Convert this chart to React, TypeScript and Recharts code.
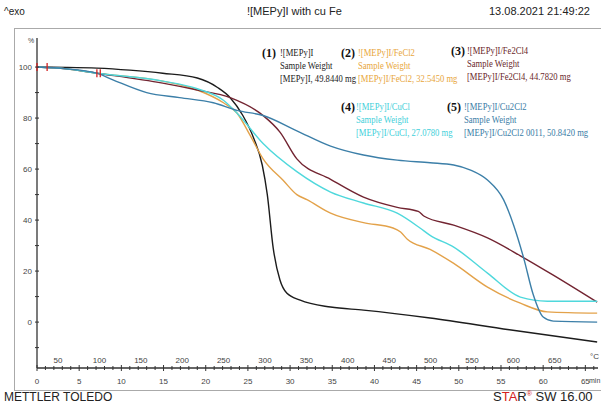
import { LineChart, Line, XAxis, YAxis, ReferenceDot, ReferenceLine } from 'recharts';

// time axis (min) and temperature programme
const minuteTicks = Array.from({ length: 67 }, (_, i) => i);
const tempLabels = [50, 100, 150, 200, 250, 300, 350, 400, 450, 500, 550, 600, 650];
const startTemp = 24.6;
const heatRate = 10.19;
const weightTicks = [-10, 0, 10, 20, 30, 40, 50, 60, 70, 80, 90, 100];

// (1) [MEPy]I
const mepyTime = [0, 3.5, 7.1, 11, 14.9, 19, 21.4, 22.9, 24.4, 25.7, 26.7, 27.3, 28, 28.8, 29.6, 31.2, 34.8, 38.7, 46.6, 56, 66.4];
const mepyWeight = [100, 99.9, 99.6, 98.8, 97.6, 95.7, 92, 88, 81, 72, 61.6, 50, 29, 16.5, 11.4, 8.6, 5.9, 4.7, 1.6, -3, -7.8];

// (2) [MEPy]I/FeCl2
const fecl2Time = [0, 3.5, 7.1, 14.9, 19, 22.1, 23.7, 25.3, 26.8, 29.2, 30.8, 32, 34.8, 38.7, 42.2, 43.1, 43.9, 46.6, 49.4, 53.4, 57.3, 60.5, 66.4];
const fecl2Weight = [100, 99.3, 97.6, 94.5, 91, 86, 82, 73, 64, 55.5, 50, 48, 42.7, 39, 36.9, 35.3, 32.5, 28.5, 23, 13.7, 7.4, 4, 3.5];

// (3) [MEPy]I/Fe2Cl4
const fe2cl4Time = [0, 3.5, 7.1, 14.9, 19, 22.9, 26.8, 28.8, 30.8, 34.8, 38.7, 42.7, 45.2, 45.9, 49.4, 53.4, 57.3, 61.2, 66.4];
const fe2cl4Weight = [100, 99.3, 97.6, 93.7, 91, 88, 81, 74.5, 64, 56, 49, 45, 43.4, 41.5, 38, 33, 26, 18.4, 7.8];

// (4) [MEPy]I/CuCl
const cuclTime = [0, 3.5, 7.1, 14.9, 19, 22.1, 23.7, 26.8, 30.8, 34.8, 38.7, 42.7, 45.4, 46.6, 49.4, 53.4, 57.3, 60.5, 66.4];
const cuclWeight = [100, 99.3, 97.6, 94.5, 91.5, 87, 82, 70, 59, 51, 46.7, 42.7, 36.9, 34, 29.4, 19.2, 9.8, 8.2, 8.2];

// (5) [MEPy]I/Cu2Cl2
const cu2cl2Time = [0, 3.5, 7.1, 9, 13, 16.9, 20.9, 23.7, 26.8, 30.8, 34.8, 38.7, 42.7, 46.6, 49.4, 51.4, 53.4, 55.3, 56.5, 57.7, 58.8, 60, 61.2, 66.4];
const cu2cl2Weight = [100, 99.3, 97.6, 95, 90, 88, 86, 83, 81, 75, 69, 65.5, 63.5, 62.5, 61.6, 59.6, 55.7, 48, 38, 25, 11, 2, 0.4, 0];

// red step markers
const markerTime = [0, 1.2, 7.1, 7.5];
const markerWeight = [100, 100, 97.6, 97.6];

const legendTitles = ['![MEPy]I', '![MEPy]I/FeCl2', '![MEPy]I/Fe2Cl4', '![MEPy]I/CuCl', '![MEPy]I/Cu2Cl2'];
const legendWeights = ['[MEPy]I, 49.8440 mg', '[MEPy]I/FeCl2, 32.5450 mg', '[MEPy]I/Fe2Cl4, 44.7820 mg', '[MEPy]I/CuCl, 27.0780 mg', '[MEPy]I/Cu2Cl2 0011, 50.8420 mg'];

const colors = ['#1c1c1c', '#e3a24a', '#722431', '#4fd8dc', '#3c7fa8'];
const textColors = ['#1c1c1c', '#e8a63c', '#6a1f2b', '#3fd0da', '#3a7ca6'];

const zip = (t: number[], w: number[]) => t.map((v, i) => ({ t: v, w: w[i] }));
const series = [
  zip(mepyTime, mepyWeight),
  zip(fecl2Time, fecl2Weight),
  zip(fe2cl4Time, fe2cl4Weight),
  zip(cuclTime, cuclWeight),
  zip(cu2cl2Time, cu2cl2Weight),
];
const tempPositions = tempLabels.map((c) => (c - startTemp) / heatRate);

const axisFont = '"Liberation Sans", Arial, sans-serif';
const serif = '"Liberation Serif", "Times New Roman", serif';

const renderMinuteTick = (props: any) => {
  const { x, y, payload } = props;
  const major = payload.value % 5 === 0;
  return (
    <g key={payload.value}>
      <line x1={x} x2={x} y1={y - (major ? 3 : 2)} y2={y + (major ? 3 : 2)} stroke="#333" />
      {major && (
        <text x={x} y={y + 16} textAnchor="middle" fontSize={8} fill="#444" fontFamily={axisFont}>
          {payload.value}
        </text>
      )}
    </g>
  );
};

const renderWeightTick = (props: any) => {
  const { x, y, payload } = props;
  const major = payload.value % 20 === 0;
  return (
    <g key={payload.value}>
      <line x1={x - 2} x2={x + 2} y1={y} y2={y} stroke="#333" />
      {major && (
        <text x={x - 5} y={y + 3} textAnchor="end" fontSize={8} fill="#444" fontFamily={axisFont}>
          {payload.value}
        </text>
      )}
    </g>
  );
};

const Marker = (props: any) => (
  <line x1={props.cx} x2={props.cx} y1={props.cy - 4} y2={props.cy + 4} stroke="#d42020" strokeWidth={1.3} />
);

const legendPos = [
  { x: 262, y: 46, tx: 280 },
  { x: 341, y: 46, tx: 358 },
  { x: 451, y: 44, tx: 467 },
  { x: 341, y: 100, tx: 356 },
  { x: 447, y: 100, tx: 464 },
];

function App() {
  return (
    <div style={{ position: 'absolute', left: 0, top: 0, width: 601, height: 407, background: '#fff', overflow: 'hidden' }}>
      <div style={{ position: 'absolute', left: 14, top: 28, width: 600, height: 361, border: '1px solid #aaa' }} />
      <div style={{ position: 'absolute', left: 4, top: 6, fontSize: 10, fontFamily: axisFont, color: '#222' }}>^exo</div>
      <div style={{ position: 'absolute', left: 247, top: 5, fontSize: 11, fontFamily: axisFont, color: '#222' }}>![MEPy]I with cu Fe</div>
      <div style={{ position: 'absolute', left: 489, top: 5, fontSize: 11, fontFamily: axisFont, color: '#222', whiteSpace: 'nowrap' }}>13.08.2021 21:49:22</div>
      <div style={{ position: 'absolute', left: 4, top: 390, fontSize: 12, fontFamily: axisFont, color: '#222' }}>METTLER TOLEDO</div>
      <div style={{ position: 'absolute', left: 493, top: 389, fontSize: 13, fontFamily: axisFont, color: '#222', whiteSpace: 'nowrap' }}>
        S<span style={{ color: '#d42020' }}>TA</span>R<sup style={{ color: '#d42020', fontSize: 7 }}>®</sup> SW 16.00
      </div>
      <div style={{ position: 'absolute', left: 28, top: 37, fontSize: 7, fontFamily: axisFont, color: '#444' }}>%</div>
      <div style={{ position: 'absolute', left: 590, top: 352, fontSize: 8, fontFamily: axisFont, color: '#444' }}>°C</div>
      <div style={{ position: 'absolute', left: 589, top: 377, fontSize: 7, fontFamily: axisFont, color: '#444', whiteSpace: 'nowrap' }}>min</div>

      <div style={{ position: 'absolute', left: 0, top: 0 }}>
        <LineChart width={601} height={407} margin={{ top: 38, right: 3, bottom: 19, left: 7 }}>
          <XAxis
            xAxisId="min"
            type="number"
            dataKey="t"
            domain={[0, 66.5]}
            ticks={minuteTicks}
            height={20}
            axisLine={{ stroke: '#333', strokeWidth: 1.3 }}
            tickLine={false}
            tickSize={0}
            tickMargin={0}
            tick={renderMinuteTick}
            interval={0}
            allowDataOverflow
          />
          <YAxis
            type="number"
            domain={[-18, 111.4]}
            ticks={weightTicks}
            width={30}
            axisLine={{ stroke: '#333', strokeWidth: 1.3 }}
            tickLine={false}
            tickSize={0}
            tickMargin={0}
            tick={renderWeightTick}
            interval={0}
            allowDataOverflow
          />
          {tempPositions.map((p, i) => (
            <ReferenceLine
              key={'c' + i}
              xAxisId="min"
              x={p}
              stroke="none"
              label={{ value: tempLabels[i], position: 'insideBottom', offset: 5, fontSize: 8, fill: '#444', fontFamily: axisFont }}
            />
          ))}
          {series.map((d, i) => (
            <Line
              key={i}
              xAxisId="min"
              data={d}
              dataKey="w"
              type="monotone"
              stroke={colors[i]}
              strokeWidth={1.4}
              dot={false}
              isAnimationActive={false}
            />
          ))}
          {markerTime.map((t, i) => (
            <ReferenceDot key={i} xAxisId="min" x={t} y={markerWeight[i]} r={3} shape={<Marker />} />
          ))}
        </LineChart>
      </div>

      {legendPos.map((p, i) => (
        <div key={i} style={{ position: 'absolute', left: p.x, top: p.y, fontFamily: serif, whiteSpace: 'nowrap' }}>
          <span style={{ position: 'absolute', left: 0, top: 0, fontSize: 12, fontWeight: 'bold', color: '#111' }}>({i + 1})</span>
          <div
            style={{
              position: 'absolute',
              left: p.tx - p.x,
              top: 0,
              fontSize: 10,
              lineHeight: '13px',
              color: textColors[i],
              transform: 'scaleX(0.86)',
              transformOrigin: 'left top',
            }}
          >
            <div>{legendTitles[i]}</div>
            <div>Sample Weight</div>
            <div>{legendWeights[i]}</div>
          </div>
        </div>
      ))}
    </div>
  );
}

export default App;
